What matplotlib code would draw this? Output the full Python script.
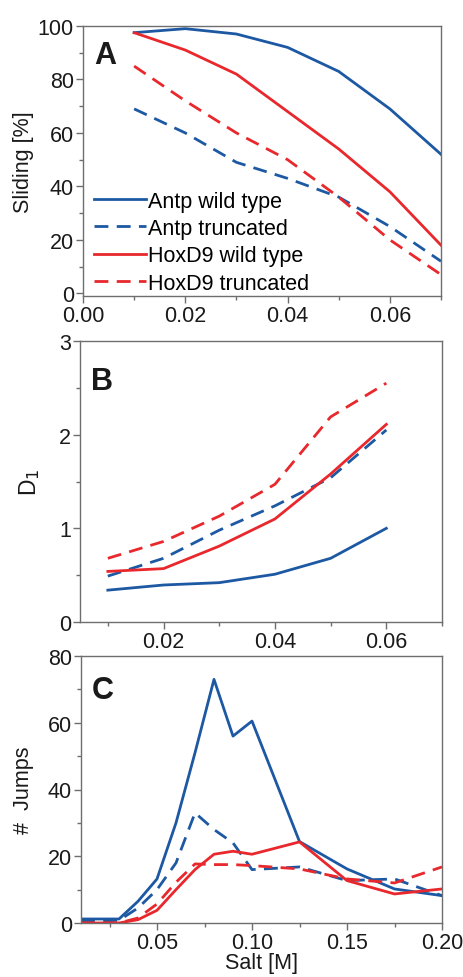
import matplotlib
matplotlib.use("Agg")
import matplotlib.pyplot as plt
from matplotlib.ticker import MultipleLocator, FormatStrFormatter

plt.rcParams['font.family'] = ['Liberation Sans', 'DejaVu Sans']

BLUE = '#1d58a3'
RED = '#e8282c'
SPINE = '#6e6e6e'
TXT = '#1a1a1a'

# Panel A: sliding %
salt_a = [0.01, 0.02, 0.03, 0.04, 0.05, 0.06, 0.07]
a_antp_wt = [97.5, 99, 97, 92, 83, 69, 52]
a_antp_tr = [69, 60, 49, 43, 36, 25, 12]
a_hox_wt = [97.5, 91, 82, 68, 54, 38, 18]
a_hox_tr = [85, 72, 60, 50, 36, 20, 7]

# Panel B: D1
salt_b = [0.01, 0.02, 0.03, 0.04, 0.05, 0.06]
b_antp_wt = [0.34, 0.395, 0.42, 0.51, 0.68, 1.0]
b_antp_tr = [0.49, 0.68, 0.98, 1.24, 1.54, 2.05]
b_hox_wt = [0.54, 0.57, 0.81, 1.10, 1.58, 2.11]
b_hox_tr = [0.68, 0.86, 1.13, 1.47, 2.19, 2.55]

# Panel C: # jumps
salt_c = [0.01, 0.02, 0.03, 0.04, 0.05, 0.06, 0.07, 0.08, 0.09, 0.10, 0.125, 0.15, 0.175, 0.20]
c_antp_wt = [1.2, 1.2, 1.2, 6.5, 13.2, 30, 51, 73, 56, 60.5, 24.4, 16.2, 10.2, 8.2]
c_antp_tr = [0.6, 0.6, 0.8, 4.5, 10, 18, 33, 28, 24, 16, 16.8, 12.7, 13.2, 8.2]
c_hox_wt = [0, 0, 0, 1, 3.8, 10, 16, 20.6, 21.5, 20.6, 24.3, 12.7, 8.7, 10.2]
c_hox_tr = [0, 0, 0, 1.5, 5.7, 12.2, 17.7, 17.5, 17.5, 17.2, 16.2, 13.2, 12, 16.8]

labels = ['Antp wild type', 'Antp truncated', 'HoxD9 wild type', 'HoxD9 truncated']

W, H = 463, 978
fig = plt.figure(figsize=(W / 100, H / 100), dpi=100)

def ax_at(l, t, r, b):
    return fig.add_axes([l / W, 1 - b / H, (r - l) / W, (b - t) / H])

LW = 2.0
DASH = (0, (5, 3))
FS = 15.5
LFS = 22

def style(ax):
    for s in ax.spines.values():
        s.set_color(SPINE)
        s.set_linewidth(1.0)
    ax.tick_params(which='both', direction='out', colors=SPINE, labelcolor=TXT,
                   labelsize=FS, top=False, right=False)
    ax.tick_params(which='major', length=5, width=1.0, pad=1.5)
    ax.tick_params(which='minor', length=3, width=1.0)

def draw(ax, x, s1, s2, s3, s4):
    ax.plot(x, s1, color=BLUE, lw=LW, label=labels[0])
    ax.plot(x, s2, color=BLUE, lw=LW, ls=DASH, label=labels[1])
    ax.plot(x, s3, color=RED, lw=LW, label=labels[2])
    ax.plot(x, s4, color=RED, lw=LW, ls=DASH, label=labels[3])

# Panel A
axA = ax_at(83, 27, 441, 297)
draw(axA, salt_a, a_antp_wt, a_antp_tr, a_hox_wt, a_hox_tr)
axA.set_xlim(0, 0.07)
axA.set_ylim(-1, 100)
axA.xaxis.set_major_locator(MultipleLocator(0.02))
axA.xaxis.set_minor_locator(MultipleLocator(0.01))
axA.xaxis.set_major_formatter(FormatStrFormatter('%.2f'))
axA.yaxis.set_major_locator(MultipleLocator(20))
axA.yaxis.set_minor_locator(MultipleLocator(10))
axA.set_ylabel('Sliding [%]', fontsize=FS, color=TXT, labelpad=3)
style(axA)
axA.text(0.03, 0.95, 'A', transform=axA.transAxes, fontsize=LFS, fontweight='bold',
         va='top', ha='left', color=TXT)
axA.legend(loc='lower left', bbox_to_anchor=(-0.01, -0.048), frameon=False, fontsize=FS,
           handlelength=2.4, handletextpad=0.1, labelspacing=0.3, borderpad=0.2)

# Panel B
axB = ax_at(80, 342, 442, 623)
draw(axB, salt_b, b_antp_wt, b_antp_tr, b_hox_wt, b_hox_tr)
axB.set_xlim(0.005, 0.07)
axB.set_ylim(0, 3)
axB.xaxis.set_major_locator(MultipleLocator(0.02))
axB.xaxis.set_minor_locator(MultipleLocator(0.01))
axB.xaxis.set_major_formatter(FormatStrFormatter('%.2f'))
axB.yaxis.set_major_locator(MultipleLocator(1))
axB.yaxis.set_minor_locator(MultipleLocator(0.5))
axB.set_ylabel('D$_1$', fontsize=FS + 1, color=TXT, labelpad=12)
style(axB)
axB.text(0.03, 0.91, 'B', transform=axB.transAxes, fontsize=LFS, fontweight='bold',
         va='top', ha='left', color=TXT)

# Panel C
axC = ax_at(81, 657, 442, 924)
draw(axC, salt_c, c_antp_wt, c_antp_tr, c_hox_wt, c_hox_tr)
axC.set_xlim(0.01, 0.20)
axC.set_ylim(0, 80)
axC.xaxis.set_major_locator(MultipleLocator(0.05))
axC.xaxis.set_minor_locator(MultipleLocator(0.025))
axC.xaxis.set_major_formatter(FormatStrFormatter('%.2f'))
axC.yaxis.set_major_locator(MultipleLocator(20))
axC.yaxis.set_minor_locator(MultipleLocator(10))
axC.set_ylabel('#  Jumps', fontsize=FS, color=TXT, labelpad=10)
axC.set_xlabel('Salt [M]', fontsize=FS, color=TXT, labelpad=-1)
style(axC)
axC.text(0.03, 0.93, 'C', transform=axC.transAxes, fontsize=LFS, fontweight='bold',
         va='top', ha='left', color=TXT)

fig.savefig('out.png', dpi=100, facecolor='white')
